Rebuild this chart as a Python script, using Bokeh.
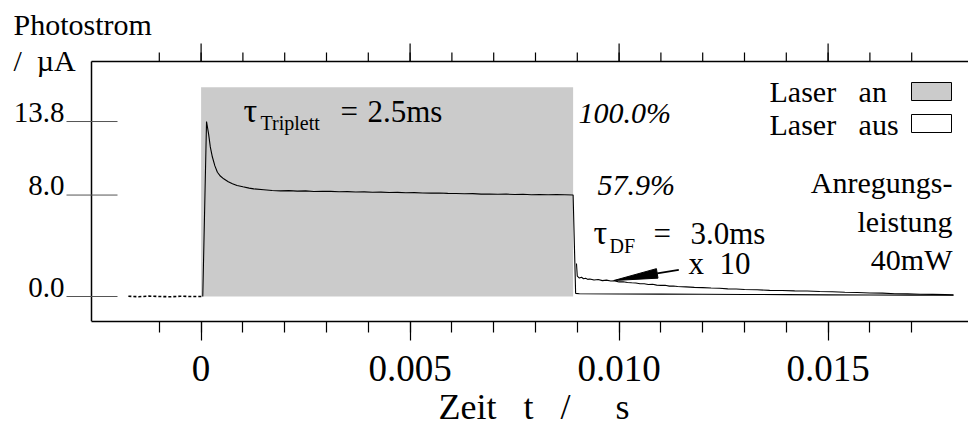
from bokeh.plotting import figure
from bokeh.models import LinearAxis, FixedTicker, Range1d, Label, BoxAnnotation, CustomJSTickFormatter
from bokeh.embed import file_html
from bokeh.resources import INLINE

# ---------------- data ----------------
# trace before the laser pulse (time in s, photocurrent in uA)
pre_t = [-0.00174, -0.00150, -0.00125, -0.00100, -0.00075, -0.00050, -0.00025, 0.00004]
pre_v = [0.02, -0.02, 0.03, 0.00, -0.02, 0.02, 0.00, 0.00]

# trace while the laser is on and directly after switching off (unmagnified)
main_t = [0.00004, 0.00013, 0.00018, 0.00022, 0.00027, 0.00033, 0.00039, 0.00046, 0.00054,
          0.00065, 0.00075, 0.00086, 0.00100, 0.00115, 0.00126, 0.00150, 0.00170, 0.00190,
          0.00210, 0.00230, 0.00250, 0.00270, 0.00290, 0.00310, 0.00330, 0.00350, 0.00370,
          0.00390, 0.00410, 0.00430, 0.00450, 0.00470, 0.00490, 0.00510, 0.00530, 0.00550,
          0.00570, 0.00590, 0.00610, 0.00630, 0.00650, 0.00670, 0.00690, 0.00710, 0.00730,
          0.00750, 0.00770, 0.00790, 0.00810, 0.00830, 0.00850, 0.00870, 0.00890, 0.00896,
          0.00905, 0.01000, 0.01100, 0.01200, 0.01300, 0.01400, 0.01500, 0.01600, 0.01700,
          0.01800]
main_v = [0.0, 13.8, 12.8, 11.8, 11.0, 10.3, 9.8, 9.5, 9.28,
          9.05, 8.9, 8.75, 8.65, 8.55, 8.49, 8.42, 8.36, 8.33,
          8.35, 8.31, 8.33, 8.28, 8.30, 8.29, 8.26, 8.27, 8.24,
          8.25, 8.22, 8.23, 8.20, 8.21, 8.18, 8.19, 8.16, 8.15,
          8.16, 8.13, 8.12, 8.10, 8.11, 8.07, 8.08, 8.06, 8.07,
          8.05, 8.06, 8.03, 8.05, 8.03, 8.04, 8.02, 8.00, 0.25,
          0.22, 0.20, 0.19, 0.18, 0.16, 0.15, 0.13, 0.12, 0.11,
          0.10]

# decay after switching off, magnified x 10
df_t = [0.00898, 0.00900, 0.00905, 0.00910, 0.00915, 0.00920, 0.00925, 0.00930, 0.00940,
        0.00950, 0.00960, 0.00970, 0.00980, 0.00990, 0.01000, 0.01010, 0.01020, 0.01030,
        0.01040, 0.01050, 0.01060, 0.01070, 0.01080, 0.01090, 0.01100, 0.01110, 0.01120,
        0.01130, 0.01140, 0.01160, 0.01180, 0.01200, 0.01220, 0.01240, 0.01260, 0.01280,
        0.01300, 0.01330, 0.01360, 0.01390, 0.01420, 0.01450, 0.01480, 0.01510, 0.01540,
        0.01570, 0.01600, 0.01630, 0.01660, 0.01690, 0.01720, 0.01750, 0.01780, 0.01800]
df_v = [2.60, 1.60, 1.45, 1.52, 1.40, 1.44, 1.35, 1.38, 1.30,
        1.34, 1.25, 1.29, 1.22, 1.23, 1.15, 1.16, 1.10, 1.08,
        1.07, 1.00, 1.01, 0.95, 0.96, 0.90, 0.88, 0.89, 0.82,
        0.83, 0.79, 0.76, 0.72, 0.70, 0.67, 0.65, 0.60, 0.59,
        0.55, 0.53, 0.48, 0.47, 0.44, 0.43, 0.39, 0.38, 0.34,
        0.32, 0.28, 0.27, 0.22, 0.21, 0.18, 0.17, 0.15, 0.13]

# laser-on period (shaded)
laser_on_t = [0.0, 0.0089]
laser_on_v = [0.0, 16.5]

x_major = [0.0, 0.005, 0.010, 0.015]
x_minor = [-0.001, 0.0, 0.001, 0.002, 0.003, 0.004, 0.005, 0.006, 0.007, 0.008,
           0.009, 0.010, 0.011, 0.012, 0.013, 0.014, 0.015, 0.016, 0.017]
y_ticks = [0.0, 8.0, 13.8]
y_tick_labels = ["0.0", "8.0", "13.8"]

# arrow annotation: tail and tip (data units)
arrow_tail = (0.011428, 2.10)
arrow_tip = (0.009873, 1.26)

# ---------------- layout ----------------
NB = "\u00a0"
W, H = 968, 430
BOX_T, FB = 61, 321       # pixel rows of the top box line and of the bottom axis
AXL = 91                  # pixel column of the left axis line
X0_PX, PX_PER_S = 200.6, 41800.0
Y0_PX, PX_PER_UA = 296.0, 12.68


def dx(px):
    return (px - X0_PX) / PX_PER_S


def dy(py):
    return (Y0_PX - py) / PX_PER_UA


def px_of(t, v):
    return X0_PX + t * PX_PER_S, Y0_PX - v * PX_PER_UA


X_START, X_END = dx(0), dx(W)
Y_START, Y_END = dy(FB), dy(0)
X_AXIS = dx(AXL)
Y_TOP = dy(BOX_T)

FONT = "Liberation Serif"

p = figure(width=W, height=H, x_range=Range1d(X_START, X_END), y_range=Range1d(Y_START, Y_END),
           output_backend="svg", toolbar_location=None, x_axis_location=None, y_axis_location=None,
           title=None, min_border_left=0, min_border_right=0, min_border_top=0,
           min_border_bottom=H - FB, outline_line_color=None,
           background_fill_color="white", border_fill_color="white")
p.grid.grid_line_color = None

fmt = CustomJSTickFormatter(code="return tick == 0 ? '0' : tick.toFixed(3);")
xb = LinearAxis(ticker=FixedTicker(ticks=x_major, minor_ticks=x_minor), formatter=fmt,
                bounds=(X_AXIS, X_END),
                major_tick_in=0, major_tick_out=19, minor_tick_in=0, minor_tick_out=11,
                axis_line_width=1.5, axis_line_color="black", major_tick_line_color="black",
                minor_tick_line_color="black", major_tick_line_width=1.2, minor_tick_line_width=1.2,
                major_label_text_font=FONT, major_label_text_font_size="37px",
                major_label_text_color="black", major_label_standoff=15,
                axis_label=NB * 11 + "Zeit" + NB * 3 + "t" + NB * 3 + "/" + NB * 5 + "s",
                axis_label_text_font=FONT, axis_label_text_font_size="36px",
                axis_label_text_font_style="normal", axis_label_text_color="black",
                axis_label_standoff=3)
p.add_layout(xb, "below")

# upper box line with outward ticks (same ticks as the time axis)
p.line([X_AXIS, X_END], [Y_TOP, Y_TOP], line_color="black", line_width=1.5)
p.segment(x0=x_minor, x1=x_minor, y0=[Y_TOP] * len(x_minor), y1=[dy(BOX_T - 9)] * len(x_minor),
          line_color="black", line_width=1.2)
p.segment(x0=x_major, x1=x_major, y0=[Y_TOP] * len(x_major), y1=[dy(BOX_T - 18)] * len(x_major),
          line_color="black", line_width=1.2)

# left axis line and its tick marks (cross the axis)
p.line([X_AXIS, X_AXIS], [Y_START, Y_TOP], line_color="black", line_width=1.5)
p.segment(x0=[dx(66)] * len(y_ticks), x1=[dx(117)] * len(y_ticks), y0=y_ticks, y1=y_ticks,
          line_color="#555555", line_width=1)

# laser-on shading
p.quad(left=[laser_on_t[0]], right=[laser_on_t[1]], bottom=[laser_on_v[0]], top=[laser_on_v[1]],
       fill_color="#cbcbcb", line_color=None)

# traces
p.line(pre_t, pre_v, line_color="black", line_width=1.6, line_dash="3 2")
p.line(main_t, main_v, line_color="black", line_width=1.1)
p.line(df_t, df_v, line_color="black", line_width=1.1)

# arrow (shaft + long narrow head)
tx, ty = px_of(*arrow_tail)
hx, hy = px_of(*arrow_tip)
L = ((hx - tx) ** 2 + (hy - ty) ** 2) ** 0.5
ux, uy = (hx - tx) / L, (hy - ty) / L
HEAD_LEN, HEAD_HALF = 44.0, 4.8
bx, by = hx - ux * HEAD_LEN, hy - uy * HEAD_LEN
nx, ny = -uy, ux
p.line([dx(tx), dx(bx)], [dy(ty), dy(by)], line_color="black", line_width=1.6)
p.patch([dx(hx), dx(bx + nx * HEAD_HALF), dx(bx - nx * HEAD_HALF)],
        [dy(hy), dy(by + ny * HEAD_HALF), dy(by - ny * HEAD_HALF)],
        fill_color="black", line_color="black", line_width=1)

# legend boxes
p.add_layout(BoxAnnotation(left=dx(911), right=dx(951), top=dy(82), bottom=dy(100),
                           fill_color="#cbcbcb", fill_alpha=1, line_color="black", line_width=1,
                           line_alpha=1))
p.add_layout(BoxAnnotation(left=dx(911), right=dx(951), top=dy(114), bottom=dy(132),
                           fill_color="white", fill_alpha=1, line_color="black", line_width=1,
                           line_alpha=1))

BASE_SHIFT = 0.35   # empirical: rendered baseline sits this many em below the anchor


def lab(text, px, py, size=30, align="left", style="normal"):
    p.add_layout(Label(x=dx(px), y=dy(py - BASE_SHIFT * size), text=text, text_font=FONT,
                       text_font_size=f"{size}px", text_align=align, text_baseline="alphabetic",
                       text_color="black", text_font_style=style))


# y axis title and tick labels
lab("Photostrom", 13, 34, 30)
lab("/" + NB * 2 + "µA", 13, 70, 30)
for v, s in zip(y_ticks, y_tick_labels):
    lab(s, 64, Y0_PX - v * PX_PER_UA + 1, 29, "right")

# annotations
lab("τ", 243, 122, 34)
lab("Triplett", 260, 129, 20)
lab("=", 340, 122, 31)
lab("2.5ms", 367, 122, 31)
lab("100.0%", 578, 122, 30, style="italic")
lab("57.9%", 597, 194, 30, style="italic")
lab("τ", 593, 244, 34)
lab("DF", 609, 252, 20)
lab("=", 653, 244, 31)
lab("3.0ms", 690, 244, 31)
lab("x" + NB * 2 + "10", 688, 274, 31)
lab("Laser" + NB * 3 + "an", 769, 101, 30)
lab("Laser" + NB * 3 + "aus", 769, 134, 30)
lab("Anregungs-", 952, 192, 30, "right")
lab("leistung", 952, 231, 30, "right")
lab("40mW", 952, 269, 30, "right")

open("out.html", "w").write(file_html(p, INLINE))
